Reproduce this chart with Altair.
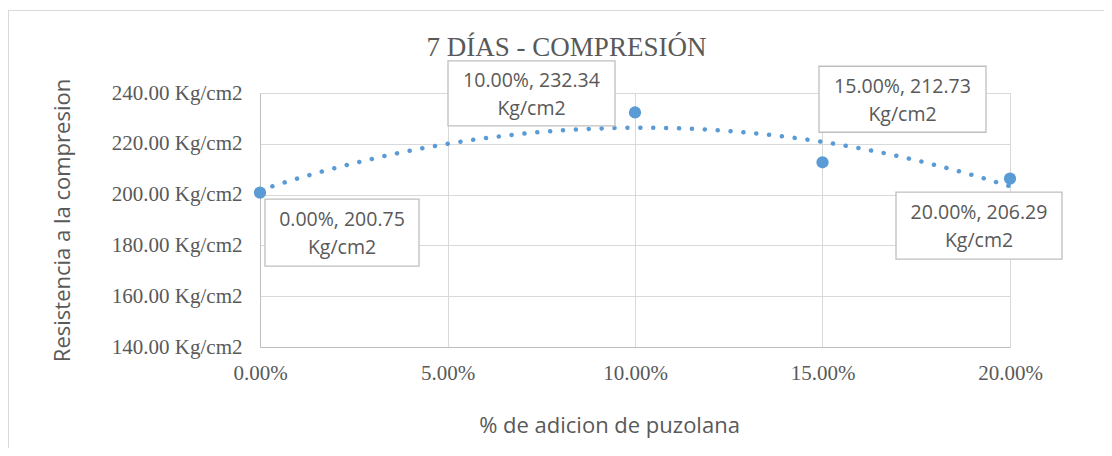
import altair as alt
import pandas as pd

# ---- data ----
pct = [0.00, 10.00, 15.00, 20.00]            # % de adicion de puzolana
resist = [200.75, 232.34, 212.73, 206.29]    # Kg/cm2
x_ticks = [0.0, 0.05, 0.10, 0.15, 0.20]
y_ticks = [140, 160, 180, 200, 220, 240]
title_text = "7 DÍAS - COMPRESIÓN"

labels = [f"{p:.2f}%, {v:.2f}\nKg/cm2" for p, v in zip(pct, resist)]
df = pd.DataFrame({"x": [p / 100 for p in pct], "y": resist,
                   "label": labels, "i": list(range(len(pct)))})

# ---- layout / style ----
W, H = 750, 254
BLUE = "#5B9BD5"
TXT = "#595959"
GRID = "#d9d9d9"
SERIF = "Liberation Serif"
SANS = "Open Sans"
LH = 28
# label box placement relative to its point: (dx, dy, width, height)
BOXES = [(82, 40, 154, 67), (-103.5, -19, 167, 65),
         (80, -63, 167, 66), (-31, 47, 166, 67)]

xenc = alt.X("x:Q", scale=alt.Scale(domain=[0, 0.2], nice=False),
             axis=alt.Axis(values=x_ticks, format=".2%", title="% de adicion de puzolana",
                           labelFont=SERIF, labelFontSize=21, labelColor=TXT,
                           labelPadding=15, labelFlush=False, labelOverlap=False,
                           ticks=False, domainColor="#bfbfbf", gridColor=GRID,
                           titleFont=SANS, titleFontSize=22, titleFontWeight="normal",
                           titleColor=TXT, titleX=349, titleY=78, titleBaseline="middle"))
yenc = alt.Y("y:Q", scale=alt.Scale(domain=[140, 240], nice=False, zero=False),
             axis=alt.Axis(values=y_ticks, labelExpr="format(datum.value, '.2f') + ' Kg/cm2'",
                           title="Resistencia a la compresion",
                           labelFont=SERIF, labelFontSize=21, labelColor=TXT,
                           labelPadding=18, labelFlush=False, labelOverlap=False,
                           ticks=False, domainColor="#bfbfbf", gridColor=GRID,
                           titleFont=SANS, titleFontSize=22, titleFontWeight="normal",
                           titleColor=TXT, titleX=-198, titleY=127, titleBaseline="middle"))

base = alt.Chart(df)

trend = base.transform_regression("x", "y", method="poly", order=2, extent=[0, 0.2]).mark_line(
    color=BLUE, strokeWidth=4.5, strokeDash=[0.1, 12.8], strokeCap="round"
).encode(x=xenc, y=yenc)

points = base.mark_circle(size=150, color=BLUE, opacity=1).encode(x="x:Q", y="y:Q")

layers = [trend, points]
for k, (dx, dy, bw, bh) in enumerate(BOXES):
    sub = base.transform_filter(f"datum.i == {k}")
    box = sub.mark_rect(fill="white", stroke="#bfbfbf", strokeWidth=1.3,
                        xOffset=dx - bw / 2, x2Offset=dx + bw / 2,
                        yOffset=dy - bh / 2, y2Offset=dy + bh / 2).encode(
        x="x:Q", x2="x:Q", y="y:Q", y2="y:Q")
    txt = sub.mark_text(font=SANS, fontSize=19.5, color=TXT, align="center",
                        baseline="middle", lineBreak="\n", lineHeight=LH,
                        dx=dx, dy=dy - LH / 2 + 1.5).encode(x="x:Q", y="y:Q", text="label:N")
    layers += [box, txt]

one = alt.Data(values=[{}])
frame_top = alt.Chart(one).mark_rule(color=GRID, strokeWidth=1).encode(
    x=alt.value(-252), x2=alt.value(852), y=alt.value(-82.5))
frame_left = alt.Chart(one).mark_rule(color=GRID, strokeWidth=1).encode(
    x=alt.value(-251.5), y=alt.value(-83), y2=alt.value(363))
title = alt.Chart(alt.Data(values=[{"t": title_text}])).mark_text(
    font=SERIF, fontSize=27, color=TXT, align="center", baseline="alphabetic"
).encode(x=alt.value(306.5), y=alt.value(-37), text="t:N")

chart = alt.layer(frame_top, frame_left, title, *layers).properties(
    width=W, height=H,
    autosize=alt.AutoSizeParams(type="none"),
    padding={"left": 252, "top": 85, "right": 94, "bottom": 101},
).configure_view(stroke=None).configure(background="white")

chart.save("out.html", embed_options={"renderer": "svg", "actions": False})
